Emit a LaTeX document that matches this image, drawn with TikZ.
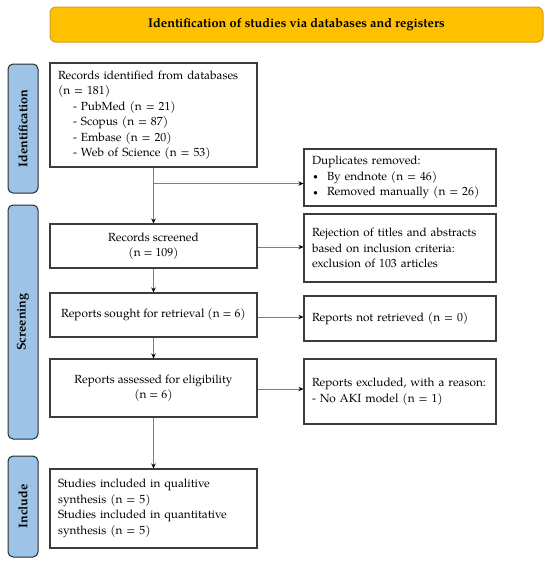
\documentclass[tikz,border=0pt]{standalone}
\usepackage{fontspec}
\setmainfont{TeX Gyre Pagella}
\usetikzlibrary{arrows.meta,calc}
\definecolor{titlefill}{HTML}{FFC000}
\definecolor{titledraw}{HTML}{D39E1E}
\definecolor{sidefill}{HTML}{9DC3E6}
\definecolor{sidedraw}{HTML}{2B2B2B}
\definecolor{boxdraw}{HTML}{3C3C3C}
\definecolor{linecol}{HTML}{808080}
\tikzset{
  txt/.style={font=\fontsize{11.8}{15.5}\selectfont},
  titlebox/.style={draw=titledraw, fill=titlefill, line width=1pt, rounded corners=6pt,
    minimum width=493pt, minimum height=35pt, inner sep=0pt,
    font=\fontsize{12.7}{15.5}\selectfont\bfseries},
  sidebox/.style={draw=sidedraw, fill=sidefill, line width=1pt, rounded corners=5pt,
    rotate=90, inner sep=0pt, minimum height=30pt,
    font=\fontsize{12.6}{15.5}\selectfont\bfseries},
  flowbox/.style={draw=boxdraw, line width=1.1pt, fill=white, inner xsep=8pt, inner ysep=0pt,
    txt, align=left},
  centbox/.style={draw=boxdraw, line width=1.1pt, fill=white, inner sep=0pt,
    txt, align=center},
  conn/.style={draw=linecol, line width=0.9pt, -{Stealth[length=5pt,width=4.5pt,color=black]}},
}
\newcommand{\bul}{\makebox[15pt][l]{\hspace{1pt}\raisebox{0.3pt}{\scalebox{0.75}{\textbullet}}}}
\begin{document}
\begin{tikzpicture}[x=1pt,y=-1pt]
\useasboundingbox (0,0) rectangle (550,565);
% title
\node[titlebox] (title) at (296.5,24.5) {Identification of studies via databases and registers};
% side labels
\node[sidebox, minimum width=129pt] (sid) at (23,128.5) {Identification};
\node[sidebox, minimum width=234pt] (sscr) at (23,322) {Screening};
\node[sidebox, minimum width=101pt] (sinc) at (23,506.5) {Include};
% left column
\node[flowbox, text width=191pt, minimum width=207pt, minimum height=104pt] (ident) at (153.5,115)
  {Records identified from databases\\(n = 181)\\
   \hspace*{15pt}- PubMed (n = 21)\\
   \hspace*{15pt}- Scopus (n = 87)\\
   \hspace*{15pt}- Embase (n = 20)\\
   \hspace*{15pt}- Web of Science (n = 53)};
\node[centbox, minimum width=207pt, minimum height=44pt] (screen) at (153.5,246)
  {Records screened\\(n = 109)};
\node[centbox, minimum width=207pt, minimum height=44pt] (sought) at (153.5,315)
  {Reports sought for retrieval (n = 6)};
\node[centbox, minimum width=207pt, minimum height=58pt] (assess) at (153.5,388)
  {Reports assessed for eligibility\\(n = 6)};
\node[flowbox, text width=191pt, minimum width=207pt, minimum height=79pt] (incl) at (153.5,508.5)
  {Studies included in qualitive\\synthesis (n = 5)\\Studies included in quantitative\\synthesis (n = 5)};
% right column
\node[flowbox, text width=176pt, minimum width=192pt, minimum height=57pt] (dup) at (400,177.5)
  {Duplicates removed:\\\bul By endnote (n = 46)\\\bul Removed manually (n = 26)};
\node[flowbox, text width=176pt, minimum width=192pt, minimum height=68pt] (rej) at (400,248)
  {Rejection of titles and abstracts\\based on inclusion criteria:\\exclusion of 103 articles};
\node[flowbox, text width=176pt, minimum width=192pt, minimum height=45pt] (notret) at (400,318.5)
  {Reports not retrieved (n = 0)};
\node[flowbox, text width=176pt, minimum width=192pt, minimum height=65pt] (excl) at (400,391.5)
  {Reports excluded, with a reason:\\- No AKI model (n = 1)};
% connectors
\coordinate (br) at ($(ident.south)+(0,16)$);
\draw[conn] (ident.south) -- (screen.north);
\draw[conn] (br) -- (br -| dup.west);
\draw[conn] ($(screen.east)+(0,1)$) -- ($(screen.east -| rej.west)+(0,1)$);
\draw[conn] ($(sought.east)+(0,2)$) -- ($(sought.east -| notret.west)+(0,2)$);
\draw[conn] ($(assess.east)+(0,1)$) -- ($(assess.east -| excl.west)+(0,1)$);
\draw[conn] (screen.south) -- (sought.north);
\draw[conn] (sought.south) -- (assess.north);
\draw[conn] (assess.south) -- (incl.north);
\end{tikzpicture}
\end{document}
